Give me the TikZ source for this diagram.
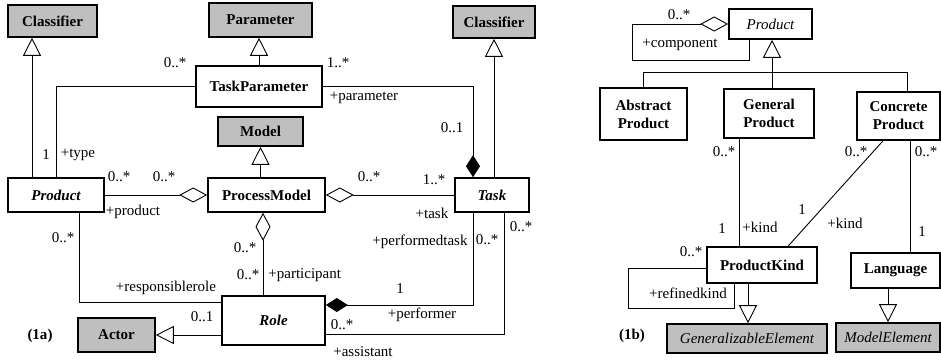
\documentclass[tikz,border=0pt]{standalone}
\usepackage{fontspec}
\setmainfont{Liberation Serif}
\newfontfamily\umlfont{Liberation Serif}
\usetikzlibrary{arrows.meta}

\begin{document}
\begin{tikzpicture}[x=1pt, y=-1pt, line width=0.9pt,
    font=\umlfont\fontsize{15}{18}\selectfont,
    cls/.style={draw, line width=1.6pt, inner sep=0pt, align=center, fill=white,
        font=\umlfont\fontsize{15}{18}\selectfont\bfseries},
    base/.style={cls, fill=gray!50},
    itl/.style={font=\umlfont\fontsize{15}{18}\selectfont\itshape},
    sz/.style 2 args={minimum width=#1pt, minimum height=#2pt},
    lbl/.style={inner sep=0pt},
    gen/.style={-{Triangle[open, length=18pt, width=18pt]}},
    aggr/.style={-{Diamond[open, length=28pt, width=15pt]}},
    comp/.style={-{Diamond[length=22pt, width=14pt]}}]
    \useasboundingbox (0,0) rectangle (941,361);

    % (1a) classes
    \node[base, sz={89}{32}] (clsA) at (52.5,21) {Classifier};
    \node[base, sz={103}{34}] (param) at (260.5,20) {Parameter};
    \node[base, sz={82}{32}] (clsB) at (494,22) {Classifier};
    \node[cls, sz={126}{41}] (taskparam) at (259,86.5) {TaskParameter};
    \node[base, sz={85}{29}] (model) at (260.5,131.5) {Model};
    \node[cls, sz={96}{34}] (product) at (56,195) {\itshape Product};
    \node[cls, sz={117}{34}] (procmodel) at (266.5,195) {ProcessModel};
    \node[cls, sz={74}{34}] (task) at (492,195) {\itshape Task};
    \node[cls, sz={103}{49}] (role) at (273.5,320.5) {\itshape Role};
    \node[base, sz={77}{34}] (actor) at (116.5,335) {Actor};
    \node[lbl, font=\umlfont\fontsize{15}{18}\selectfont\bfseries] (capA) at (40,336) {(1a)};

    \draw[gen] (product.north -| 32,0) -- (clsA.south -| 32,0);
    \draw[gen] (taskparam.north) -- (taskparam.north |- param.south);
    \draw[gen] (procmodel.north -| model.south) -- (model.south);
    \draw[gen] (task.north -| clsB.south) -- (clsB.south);
    \draw[gen] (role.west |- actor.east) -- (actor.east);

    \draw (taskparam.west) -| (product.north);
    \draw[comp] (taskparam.east) -| (task.north -| 473,0);
    \draw[aggr] (product.east) -- (procmodel.west);
    \draw[aggr] (task.west) -- (procmodel.east);
    \draw[aggr] (role.north -| 263,0) -- (procmodel.south -| 263,0);
    \draw (product.south -| 79,0) |- (role.west |- 0,302);
    \draw[comp] (task.south -| 473,0) |- (role.east |- 0,305);
    \draw (task.south -| 504,0) |- (role.east |- 0,334);

    % (1a) role names and multiplicities
    \node[lbl] (tpA) at (175,63) {0..*};
    \node[lbl] (tpB) at (46,155) {1};
    \node[lbl] (tpC) at (78,155) {+type};
    \node[lbl] (tkA) at (338,63) {1..*};
    \node[lbl] (tkB) at (364,98) {+parameter};
    \node[lbl] (tkC) at (452,128) {0..1};
    \node[lbl] (pmA) at (119,177) {0..*};
    \node[lbl] (pmB) at (164,177) {0..*};
    \node[lbl] (pmC) at (133,212) {+product};
    \node[lbl] (pmD) at (369,177) {0..*};
    \node[lbl] (pmE) at (434,180) {1..*};
    \node[lbl] (pmF) at (432,213) {+task};
    \node[lbl] (rlA) at (63,238) {0..*};
    \node[lbl] (rlB) at (166,288) {+responsiblerole};
    \node[lbl] (rlC) at (245,248) {0..*};
    \node[lbl] (rlD) at (248,275) {0..*};
    \node[lbl, anchor=west] (rlE) at (268,275) {+participant};
    \node[lbl] (rlF) at (202,317) {0..1};
    \node[lbl] (pfA) at (420,242) {+performedtask};
    \node[lbl] (pfB) at (487,240) {0..*};
    \node[lbl] (pfC) at (400,289) {1};
    \node[lbl] (pfD) at (422,315) {+performer};
    \node[lbl] (asA) at (521,227) {0..*};
    \node[lbl] (asB) at (342,325) {0..*};
    \node[lbl] (asC) at (363,352) {+assistant};

    % (1b) classes
    \node[cls, itl, sz={83}{30}] (prodB) at (770.5,24) {Product};
    \node[cls, sz={87}{52}] (abstract) at (643.5,114) {Abstract\\Product};
    \node[cls, sz={90}{49}] (general) at (769,113.5) {General\\Product};
    \node[cls, sz={83}{48}] (concrete) at (898.5,116) {Concrete\\Product};
    \node[cls, sz={110}{36}] (prodkind) at (762,265) {ProductKind};
    \node[cls, sz={89}{35}] (language) at (895.5,270.5) {Language};
    \node[base, itl, sz={160}{29}] (genelem) at (747,338.5) {GeneralizableElement};
    \node[base, itl, sz={104}{29}] (modelelem) at (888,337.5) {ModelElement};
    \node[lbl, font=\umlfont\fontsize{15}{18}\selectfont\bfseries] (capB) at (632,336) {(1b)};

    \draw[aggr] (prodB.south -| 749,0) |- (632,60) |- (prodB.west);
    \draw[gen] (general.north -| 772,0) -- (prodB.south -| 772,0);
    \draw (abstract.north) |- (907,72) -- (concrete.north -| 907,0);
    \draw (general.south -| 739,0) -- (prodkind.north -| 739,0);
    \draw (concrete.south -| 883,0) -- (prodkind.north -| 788,0);
    \draw (concrete.south -| 910,0) -- (language.north -| 910,0);
    \draw (prodkind.west |- 0,268) -| (628,308) -| (prodkind.south -| 734,0);
    \draw[gen] (prodkind.south -| 748,0) -- (genelem.north -| 748,0);
    \draw[gen] (language.south -| 888,0) -- (modelelem.north -| 888,0);

    % (1b) role names and multiplicities
    \node[lbl] (cpA) at (679,15) {0..*};
    \node[lbl] (cpB) at (680,45) {+component};
    \node[lbl] (gkA) at (724,152) {0..*};
    \node[lbl] (gkB) at (722,229) {1};
    \node[lbl] (gkC) at (760,227) {+kind};
    \node[lbl] (ckA) at (856,152) {0..*};
    \node[lbl] (ckB) at (802,210) {1};
    \node[lbl] (ckC) at (845,223) {+kind};
    \node[lbl] (lgA) at (926,152) {0..*};
    \node[lbl] (lgB) at (922,232) {1};
    \node[lbl] (rkA) at (691,252) {0..*};
    \node[lbl] (rkB) at (688,293) {+refinedkind};
\end{tikzpicture}
\end{document}
